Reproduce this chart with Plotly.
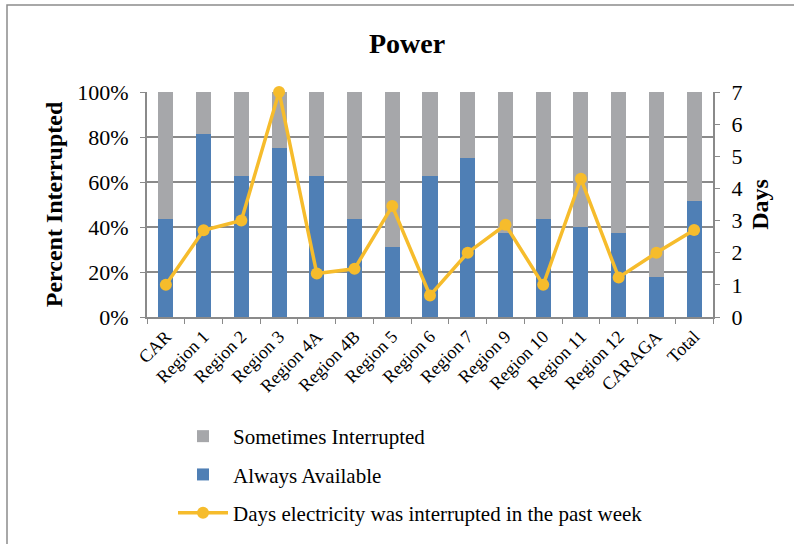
import plotly.graph_objects as go

categories = ["CAR", "Region 1", "Region 2", "Region 3", "Region 4A", "Region 4B", "Region 5",
              "Region 6", "Region 7", "Region 9", "Region 10", "Region 11", "Region 12", "CARAGA", "Total"]
always_available = [43.75, 81.25, 62.5, 75.0, 62.5, 43.75, 31.25, 62.5, 70.6, 37.5, 43.75, 40.0, 37.5, 17.6, 51.4]
sometimes_interrupted = [100 - v for v in always_available]
days_interrupted = [1.0, 2.7, 3.0, 7.0, 1.35, 1.5, 3.45, 0.67, 2.0, 2.87, 1.0, 4.3, 1.23, 2.0, 2.71]

FONT = "Liberation Serif, Times New Roman, serif"
GRID = "#8a8a8a"

fig = go.Figure()
fig.add_trace(go.Bar(x=categories, y=always_available, name="Always Available",
                     marker=dict(color="#4F7FB5", line=dict(width=0)),
                     legendgroup="b", legendrank=2))
fig.add_trace(go.Bar(x=categories, y=sometimes_interrupted, name="Sometimes Interrupted",
                     marker=dict(color="#A6A7AA", line=dict(width=0)),
                     legendgroup="a", legendrank=1))
fig.add_trace(go.Scatter(x=categories, y=days_interrupted, name="Days electricity was interrupted in the past week",
                         yaxis="y2", mode="lines+markers",
                         line=dict(color="#F6BC2C", width=3.5),
                         marker=dict(color="#F6BC2C", size=12),
                         cliponaxis=False, legendgroup="c", legendrank=3))

fig.update_layout(
    width=794, height=544,
    margin=dict(l=147, r=81, t=92, b=227, autoexpand=False),
    paper_bgcolor="white", plot_bgcolor="white",
    barmode="stack", bargap=0.6,
    font=dict(family=FONT, size=20, color="black"),
    title=dict(text="<b>Power</b>", x=407/794, xanchor="center", y=1-43/544, yanchor="middle",
               font=dict(family=FONT, size=28, color="black")),
    xaxis=dict(type="category", range=[-0.5, len(categories) - 0.5],
               tickangle=-45, ticks="outside", tickson="boundaries",
               ticklen=5, tickcolor=GRID, showline=True, linecolor=GRID, linewidth=2,
               tickfont=dict(family=FONT, size=18), automargin=False),
    yaxis=dict(range=[0, 100], tickvals=[0, 20, 40, 60, 80, 100],
               ticktext=["0%", "20%", "40%", "60%", "80%", "100%"],
               showgrid=True, gridcolor=GRID, gridwidth=1.5,
               showline=True, linecolor=GRID, linewidth=2, ticks="outside", ticklen=5, tickcolor=GRID,
               ticklabelstandoff=7,
               tickfont=dict(family=FONT, size=22), zeroline=False, automargin=False,
               title=dict(text="<b>Percent Interrupted</b>", font=dict(family=FONT, size=24), standoff=8)),
    yaxis2=dict(range=[0, 7], dtick=1, overlaying="y", side="right", showgrid=False,
                showline=True, linecolor=GRID, linewidth=2, ticks="outside", ticklen=5, tickcolor=GRID,
                ticklabelstandoff=7,
                tickfont=dict(family=FONT, size=22), zeroline=False, automargin=False,
                title=dict(text="<b>Days</b>", font=dict(family=FONT, size=24), standoff=10)),
    legend=dict(x=(173-147)/566, xanchor="left", y=(317-416)/225, yanchor="top",
                orientation="v", tracegroupgap=8, font=dict(family=FONT, size=21),
                itemwidth=50, bgcolor="rgba(0,0,0,0)"),
    showlegend=True,
)

fig.add_shape(type="rect", xref="paper", yref="paper",
              x0=(7-147)/566, x1=(820-147)/566, y0=(317-570)/225, y1=(317-5)/225,
              line=dict(color="#8c8c8c", width=1.5), layer="below")

fig.write_html("out.html", config={"displayModeBar": False},
               post_script="document.body.style.margin='0';document.body.style.overflow='hidden';")
